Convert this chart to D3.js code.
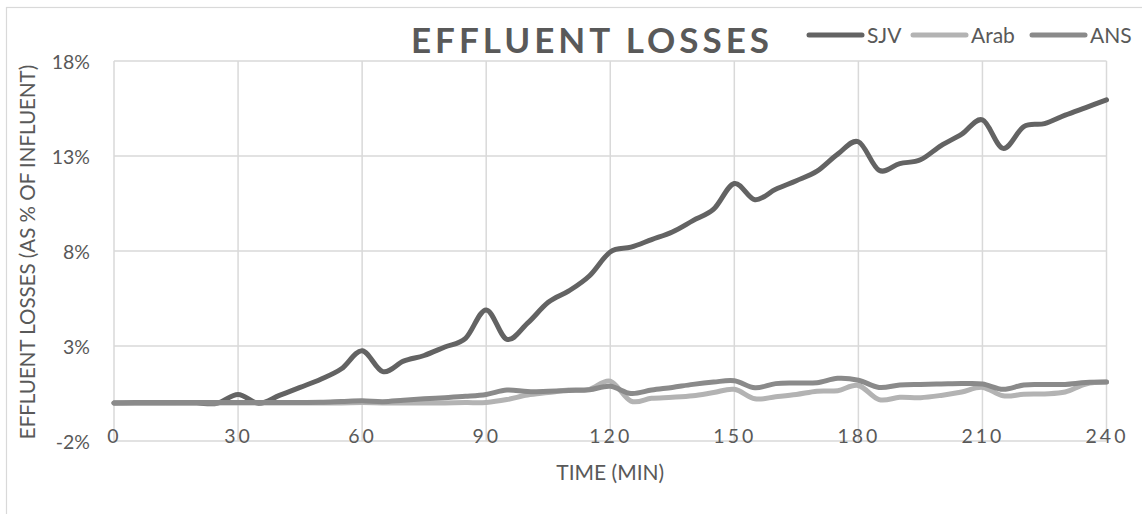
<!DOCTYPE html>
<html>
<head>
<meta charset="utf-8">
<script src="https://cdn.jsdelivr.net/npm/d3@7/dist/d3.min.js"></script>
<style>
  html, body { margin: 0; padding: 0; background: #fff; }
  svg { display: block; font-family: Lato, "Open Sans", sans-serif; }
</style>
</head>
<body>
<svg id="chart" width="1142" height="514"></svg>
<script>
// Sampling times (minutes)
const times = [0,5,10,15,20,25,30,35,40,45,50,55,60,65,70,75,80,85,90,95,100,105,110,115,120,
  125,130,135,140,145,150,155,160,165,170,175,180,185,190,195,200,205,210,215,220,225,230,235,240];

// Effluent losses, % of influent
const sjv = [0,0,0,0,0,-0.01,0.45,-0.02,0.4,0.82,1.25,1.8,2.75,1.65,2.2,2.5,2.95,3.4,4.9,3.35,4.2,5.3,5.9,6.7,7.95,
  8.2,8.6,9.0,9.6,10.2,11.55,10.7,11.25,11.7,12.2,13.1,13.75,12.25,12.6,12.8,13.55,14.15,14.9,13.4,14.55,14.7,15.15,15.55,15.95];
const arab = [0,0.02,0.02,0.01,0.01,0,0,0,0,0,0,0,0.02,0,0,0,0,0.02,0.03,0.18,0.42,0.55,0.68,0.72,1.15,
  0.1,0.25,0.3,0.38,0.55,0.72,0.22,0.33,0.45,0.62,0.65,0.92,0.18,0.3,0.28,0.4,0.58,0.82,0.38,0.46,0.48,0.58,1.0,1.1];
const ans = [0,0.03,0.03,0.02,0.02,0.02,0.02,0.02,0.02,0.03,0.04,0.08,0.12,0.07,0.15,0.22,0.28,0.35,0.45,0.68,0.6,0.62,0.66,0.7,0.88,
  0.5,0.68,0.82,0.98,1.1,1.17,0.8,1.02,1.05,1.07,1.3,1.2,0.82,0.95,0.98,1.0,1.02,1.0,0.72,0.95,0.97,0.98,1.08,1.1];

const seriesNames = ["SJV", "Arab", "ANS"];
const seriesColors = ["#636363", "#b3b3b3", "#8a8a8a"];
const xTicks = [0,30,60,90,120,150,180,210,240];
const yTicks = [-2,3,8,13,18];

const svg = d3.select("#chart");
const textColor = "#595959";
const gridColor = "#d9d9d9";

// chart frame
svg.append("rect")
  .attr("x", 6.5).attr("y", 7.5).attr("width", 1150).attr("height", 520)
  .attr("fill", "none").attr("stroke", gridColor).attr("stroke-width", 1.2);

const x = d3.scaleLinear().domain([0, 240]).range([114, 1106.5]);
const y = d3.scaleLinear().domain([-2, 18]).range([441, 61]);

// gridlines
const grid = svg.append("g");
grid.selectAll("line.h").data(yTicks).join("line")
  .attr("x1", x(0)).attr("x2", x(240))
  .attr("y1", d => y(d)).attr("y2", d => y(d))
  .attr("stroke", gridColor).attr("stroke-width", 1.5);
grid.selectAll("line.v").data(xTicks).join("line")
  .attr("x1", d => x(d)).attr("x2", d => x(d))
  .attr("y1", y(-2)).attr("y2", y(18))
  .attr("stroke", gridColor).attr("stroke-width", 1.5);

// y axis labels
const yAxis = svg.append("g")
  .attr("transform", `translate(${x(0) - 24},0)`)
  .call(d3.axisLeft(y).tickValues(yTicks).tickFormat(d => d + "%").tickSize(0).tickPadding(0));
yAxis.select(".domain").remove();
yAxis.selectAll("text")
  .attr("fill", textColor).attr("font-size", "19.5px")
  .attr("font-family", "Lato, sans-serif").attr("dy", "0.36em");

// x axis labels
const xAxis = svg.append("g")
  .attr("transform", `translate(0,${y(-2)})`)
  .call(d3.axisBottom(x).tickValues(xTicks).tickFormat(d => String(d)).tickSize(0).tickPadding(0));
xAxis.select(".domain").remove();
xAxis.selectAll("text")
  .attr("fill", textColor).attr("font-size", "19.5px")
  .attr("font-family", "Lato, sans-serif")
  .attr("letter-spacing", "3px")
  .attr("y", 2).attr("dy", "0");

// axis titles
svg.append("text")
  .attr("x", (x(0) + x(240)) / 2).attr("y", 480)
  .attr("text-anchor", "middle").attr("fill", textColor).attr("font-size", "21px")
  .text("TIME (MIN)");
svg.append("text")
  .attr("transform", "translate(35,252) rotate(-90)")
  .attr("text-anchor", "middle").attr("fill", textColor).attr("font-size", "20.5px")
  .text("EFFLUENT LOSSES (AS % OF INFLUENT)");

// title
svg.append("text")
  .attr("x", 592).attr("y", 53)
  .attr("text-anchor", "middle").attr("fill", textColor)
  .attr("font-size", "35px").attr("font-weight", "bold").attr("letter-spacing", "4px")
  .text("EFFLUENT LOSSES");

// series lines
const data = [sjv, arab, ans];
const line = d3.line()
  .x((d, i) => x(times[i]))
  .y(d => y(d))
  .curve(d3.curveCatmullRom.alpha(0));
svg.append("g").selectAll("path").data(data).join("path")
  .attr("d", line)
  .attr("fill", "none")
  .attr("stroke", (d, i) => seriesColors[i])
  .attr("stroke-width", 5)
  .attr("stroke-linecap", "round")
  .attr("stroke-linejoin", "round");

// legend
const legendX = [809, 913, 1032];
const legend = svg.append("g").selectAll("g").data(seriesNames).join("g")
  .attr("transform", (d, i) => `translate(${legendX[i]},35)`);
legend.append("line")
  .attr("x1", 0).attr("x2", 53).attr("y1", 0).attr("y2", 0)
  .attr("stroke", (d, i) => seriesColors[i]).attr("stroke-width", 5).attr("stroke-linecap", "round");
legend.append("text")
  .attr("x", 58).attr("y", 8)
  .attr("fill", textColor).attr("font-size", "21px")
  .text(d => d);
</script>
</body>
</html>
